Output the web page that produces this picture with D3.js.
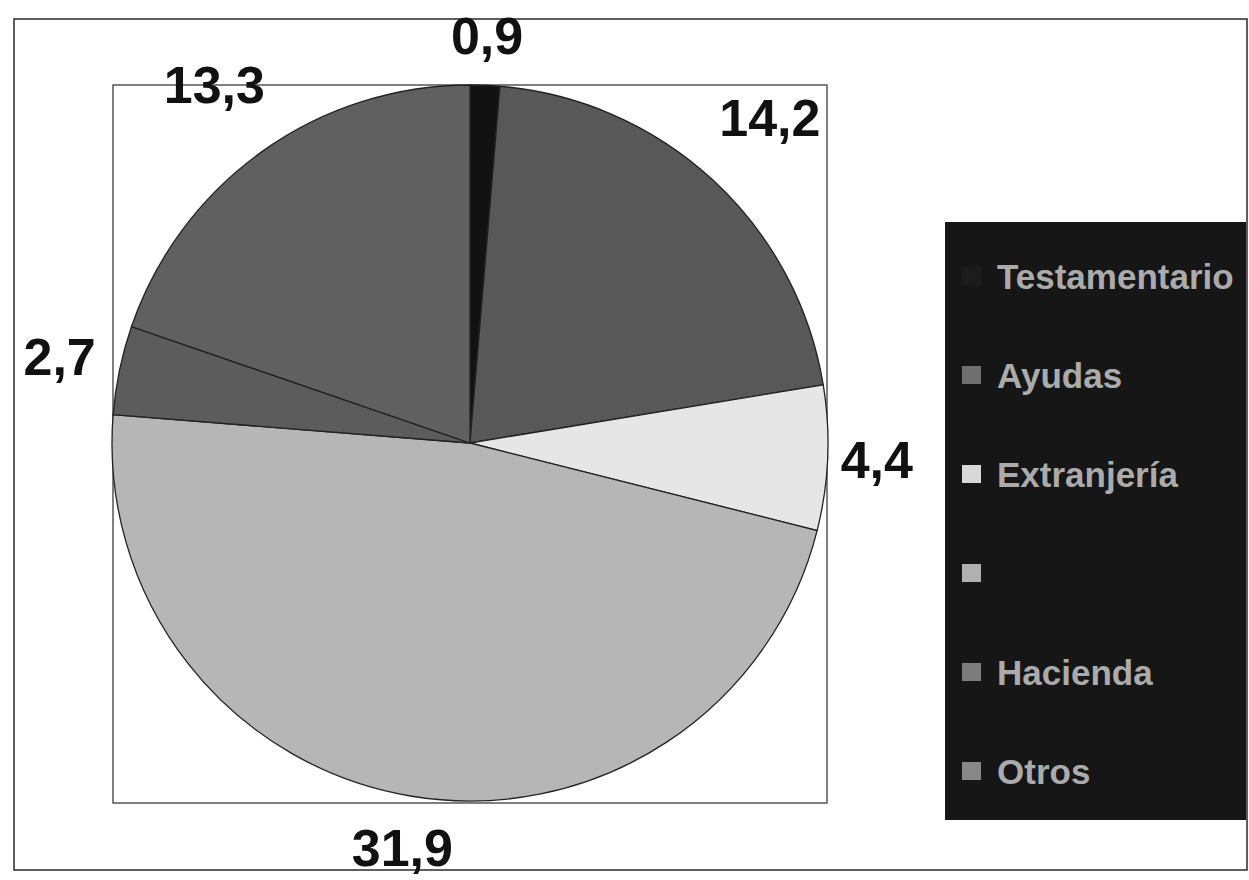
<!DOCTYPE html>
<html>
<head>
<meta charset="utf-8">
<script src="https://cdn.jsdelivr.net/npm/d3@7"></script>
<style>
  body { margin: 0; background: #fff; }
  svg { display: block; font-family: "Liberation Sans", Arial, sans-serif; }
</style>
</head>
<body>
<svg id="chart"></svg>
<script>
// categories and values
const categories = ['Testamentario', 'Ayudas', 'Extranjería', '', 'Hacienda', 'Otros'];
const values = [0.9, 14.2, 4.4, 31.9, 2.7, 13.3];
const valueLabels = ['0,9', '14,2', '4,4', '31,9', '2,7', '13,3'];
const sliceColors = ['#121212', '#585858', '#e6e6e6', '#b6b6b6', '#5c5c5c', '#606060'];
const markerColors = ['#1c1c1c', '#707070', '#d8d8d8', '#b0b0b0', '#7c7c7c', '#888888'];

const width = 1249;
const height = 880;

let svg = d3.select('#chart')
    .attr('width', width)
    .attr('height', height);

// outer chart frame
svg.append('rect')
    .attr('x', 14).attr('y', 19)
    .attr('width', 1233).attr('height', 851)
    .attr('fill', '#fff')
    .attr('stroke', '#2a2a2a')
    .attr('stroke-width', 1.5);

// plot area frame
svg.append('rect')
    .attr('x', 113).attr('y', 85)
    .attr('width', 714).attr('height', 718)
    .attr('fill', '#fff')
    .attr('stroke', '#555')
    .attr('stroke-width', 1.5);

const cx = 470, cy = 443, r = 358;

const pie = d3.pie().sort(null).value(d => d)(values);
const arc = d3.arc().innerRadius(0).outerRadius(r);

let g = svg.append('g').attr('transform', `translate(${cx},${cy})`);

g.selectAll('path')
    .data(pie)
    .join('path')
    .attr('d', arc)
    .attr('fill', (d, i) => sliceColors[i])
    .attr('stroke', '#222')
    .attr('stroke-width', 1.3);

// legend
const lx = 945, ly = 222, lw = 301, lh = 598;
svg.append('rect')
    .attr('x', lx).attr('y', ly)
    .attr('width', lw).attr('height', lh)
    .attr('fill', '#161616');

const legendY = d3.scalePoint()
    .domain(d3.range(categories.length))
    .range([276, 771]);

let items = svg.append('g').selectAll('g')
    .data(categories)
    .join('g')
    .attr('transform', (d, i) => `translate(${lx + 17},${legendY(i)})`);

items.append('rect')
    .attr('x', 0).attr('y', -9)
    .attr('width', 19).attr('height', 18)
    .attr('fill', (d, i) => markerColors[i]);

items.append('text')
    .attr('x', 35)
    .attr('dy', '0.36em')
    .attr('font-size', 35)
    .attr('font-weight', 'bold')
    .attr('fill', '#ababab')
    .text(d => d);

// value labels, pushed further out on the diagonals, kept inside the page
function labelPos(d) {
    const a = (d.startAngle + d.endAngle) / 2;
    const rr = 404 + 38 * Math.abs(Math.sin(2 * a));
    const y = cy - rr * Math.cos(a);
    return [cx + rr * Math.sin(a), Math.min(y, height - 32)];
}

svg.append('g').selectAll('text')
    .data(pie)
    .join('text')
    .attr('x', d => labelPos(d)[0])
    .attr('y', d => labelPos(d)[1])
    .attr('dy', '0.34em')
    .attr('text-anchor', 'middle')
    .attr('font-size', 52)
    .attr('font-weight', 'bold')
    .attr('fill', '#111')
    .text((d, i) => valueLabels[i]);
</script>
</body>
</html>
